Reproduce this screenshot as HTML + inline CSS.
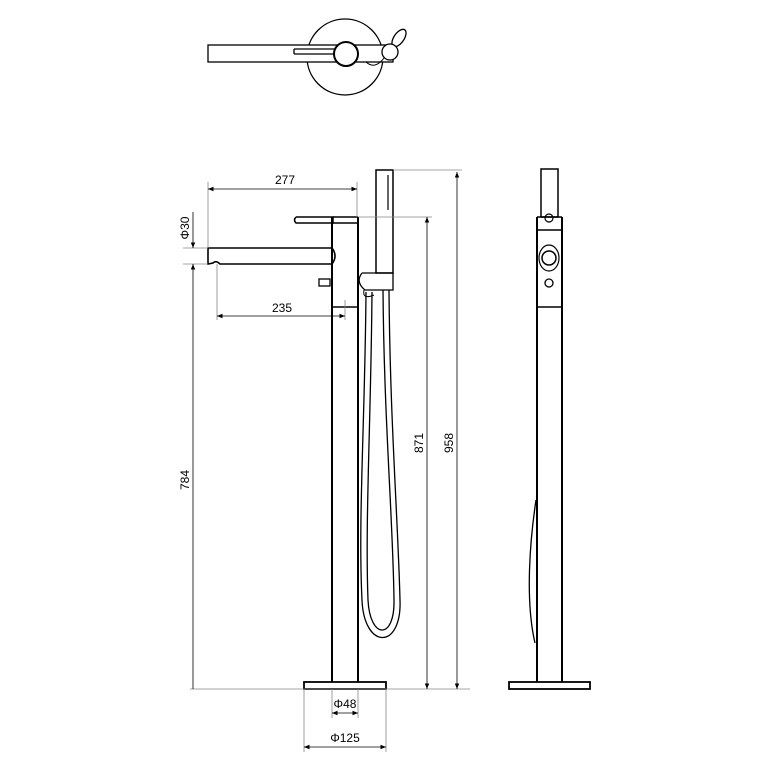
<!DOCTYPE html>
<html><head><meta charset="utf-8"><style>html,body{margin:0;padding:0;background:#fff}svg{display:block}</style></head>
<body>
<svg width="764" height="764" viewBox="0 0 764 764" xmlns="http://www.w3.org/2000/svg" font-family="Liberation Sans, Arial, sans-serif" font-size="12">
<defs>
<marker id="a" viewBox="0 0 10 10" refX="10" refY="5" markerWidth="7" markerHeight="7" orient="auto-start-reverse"><path d="M0,1 L10,5 L0,9z" fill="#000"/></marker>
</defs>
<!-- top view -->
<g stroke="#000" fill="none" stroke-width="1.3">
<circle cx="345" cy="57" r="38"/>
<rect x="208" y="45" width="185" height="17" fill="#fff"/>
<path d="M294 49 H338 M294 54 H338 M294 49 V54"/>
<circle cx="346" cy="54" r="12" fill="#fff" stroke-width="2"/>
<ellipse cx="399" cy="38" rx="5" ry="10" transform="rotate(35 399 38)" fill="#fff"/>
<circle cx="390" cy="52" r="8" fill="#fff"/>
<path d="M366 62 Q375 70 384 58" stroke-width="1"/>
</g>
<!-- front view -->
<g stroke="#000" fill="none" stroke-width="2">
<path d="M332 217 V682 M358 217 V682"/>
<rect x="304" y="682" width="82" height="7" stroke-width="1.8"/>
<path d="M333 217 H358 M333 223 H358 M333 307 H358" stroke-width="1.5"/>
<path d="M296 217 H333 V223 H296 Q293 220 296 217" stroke-width="1.5"/>
<path d="M208 248 H332 Q338 256 332 264 H220 Q216 260 213 263 L208 264 Z" stroke-width="1.6"/>
<rect x="319" y="279" width="11" height="7" stroke-width="1.3"/>
<rect x="376" y="170" width="17" height="103" stroke-width="1.5"/>
<path d="M388 175 V210" stroke-width="1.2"/>
<path d="M362 273 H393 V290 H365 Q355 282 362 273" stroke-width="1.3"/>
<path d="M364 290 Q362 300 374 295" stroke-width="1"/>
<path d="M366 292 C365 420 358 520 362 600 C364 650 402 650 400 600 C398 520 390 420 389 290" stroke-width="1.3"/>
<path d="M372 292 C371 420 365 520 368 600 C370 640 395 640 394 600 C393 520 384 420 383 290" stroke-width="1.3"/>
</g>
<!-- dimensions -->
<g stroke="#888" stroke-width="0.8" fill="none">
<path d="M190 689 H470 M208 182 V248 M183 248 H208 M357 182 V217 M217 264 V320 M345 300 V320 M358 217 H432 M393 170 H462 M304 689 V752 M386 689 V752 M332 689 V718 M358 689 V718 M183 264 H208"/>
</g>
<g stroke="#000" stroke-width="0.8" fill="none">
<path d="M208 189 H357" marker-start="url(#a)" marker-end="url(#a)"/>
<path d="M217 316 H345" marker-start="url(#a)" marker-end="url(#a)"/>
<path d="M193 212 V248" marker-end="url(#a)"/>
<path d="M193 264 V689" marker-start="url(#a)"/>
<path d="M427 217 V689" marker-start="url(#a)" marker-end="url(#a)"/>
<path d="M457 172 V689" marker-start="url(#a)" marker-end="url(#a)"/>
<path d="M332 713 H358" marker-start="url(#a)" marker-end="url(#a)"/>
<path d="M304 747 H386" marker-start="url(#a)" marker-end="url(#a)"/>
</g>
<g fill="#000" text-anchor="middle">
<text x="285" y="184">277</text>
<text x="282" y="312">235</text>
<text x="345" y="708">Φ48</text>
<text x="345" y="742">Φ125</text>
<text transform="translate(189 228) rotate(-90)">Φ30</text>
<text transform="translate(189 480) rotate(-90)">784</text>
<text transform="translate(423 443) rotate(-90)">871</text>
<text transform="translate(453 443) rotate(-90)">958</text>
</g>
<!-- side view -->
<g stroke="#000" fill="none" stroke-width="2">
<rect x="541" y="169" width="17" height="48" stroke-width="1.5"/>
<path d="M537 217 V682 M562 217 V682"/>
<path d="M537 217 H562 M537 230 H562 M537 307 H562" stroke-width="1.5"/>
<circle cx="549" cy="218" r="4" stroke-width="1.2"/>
<ellipse cx="549" cy="258" rx="10" ry="13" stroke-width="1.2"/>
<circle cx="549" cy="258" r="7" stroke-width="1.5"/>
<circle cx="549" cy="283" r="4" stroke-width="1.3"/>
<rect x="509" y="682" width="81" height="7" stroke-width="1.8"/>
<path d="M536 500 C530 540 525 600 535 643" stroke-width="1.3"/>
</g>
</svg>
</body></html>
